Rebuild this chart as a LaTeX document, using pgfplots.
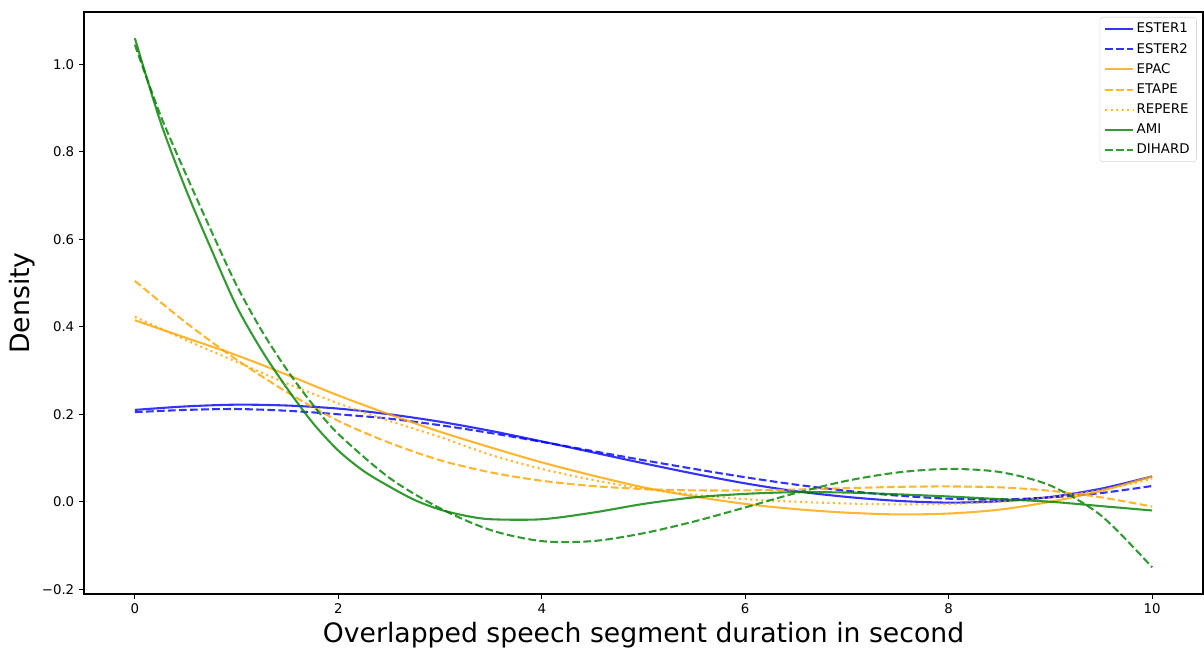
\documentclass[border=0pt]{standalone}
\usepackage{fontspec}
\setmainfont{DejaVu Sans}
\usepackage{pgfplots}
\pgfplotsset{compat=1.18}
\definecolor{mplblue}{HTML}{0000FF}
\definecolor{mplorange}{HTML}{FFA500}
\definecolor{mplgreen}{HTML}{008000}
\begin{document}
\begin{tikzpicture}
\begin{axis}[
    scale only axis,
    width=805.68pt,
    height=419.04pt,
    xmin=-0.5, xmax=10.5,
    ymin=-0.211, ymax=1.12,
    xtick={0,2,4,6,8,10},
    ytick={-0.2,0,0.2,0.4,0.6,0.8,1.0},
    yticklabels={−0.2,0.0,0.2,0.4,0.6,0.8,1.0},
    /pgf/number format/assume math mode=true,
    tick align=outside,
    major tick length=3.5pt,
    tick style={black, line width=0.8pt},
    axis line style={line width=0.8pt},
    tick label style={font=\fontsize{9.6}{11.5}\selectfont},
    xlabel={Overlapped speech segment duration in second},
    ylabel={Density},
    label style={font=\fontsize{19.2}{23}\selectfont, inner sep=0pt},
    xlabel style={at={(axis description cs:0.5,0)}, anchor=base, yshift=-35pt},
    ylabel style={at={([xshift=-35.3pt]axis description cs:0,0.5)}, anchor=south},
    xtick pos=bottom, ytick pos=left,
    legend style={at={(1,1)}, anchor=north east, xshift=-4.5pt, yshift=-3.6pt,
        draw=black!15, rounded corners=2pt, font=\fontsize{9.6}{11.5}\selectfont,
        row sep=2pt},
    legend cell align=left,
    legend image code/.code={\draw[#1] (0pt,0pt) -- (20pt,0pt);},
    every axis plot/.append style={line width=1.5pt, draw opacity=0.8, smooth, no marks},
]
% ESTER1
\addplot[mplblue] coordinates {
(0,0.210) (0.5,0.218) (1,0.222) (1.5,0.220) (2,0.213) (2.5,0.200) (3,0.183)
(3.5,0.162) (4,0.138) (4.5,0.113) (5,0.088) (5.5,0.064) (6,0.042) (6.5,0.024)
(7,0.011) (7.5,0.002) (8,-0.002) (8.5,0.001) (9,0.011) (9.5,0.030) (10,0.058)};
\addlegendentry{ESTER1}
% ESTER2
\addplot[mplblue, dash pattern=on 5.55pt off 2.4pt] coordinates {
(0,0.205) (0.5,0.210) (1,0.212) (1.5,0.208) (2,0.200) (2.5,0.190) (3,0.175)
(3.5,0.157) (4,0.137) (4.5,0.116) (5,0.095) (5.5,0.075) (6,0.056) (6.5,0.039)
(7,0.025) (7.5,0.014) (8,0.007) (8.5,0.005) (9,0.010) (9.5,0.020) (10,0.036)};
\addlegendentry{ESTER2}
% EPAC
\addplot[mplorange] coordinates {
(0,0.415) (0.5,0.375) (1,0.335) (1.5,0.290) (2,0.243) (2.5,0.200) (3,0.160)
(3.5,0.124) (4,0.090) (4.5,0.060) (5,0.033) (5.5,0.012) (6,-0.005) (6.5,-0.017)
(7,-0.025) (7.5,-0.029) (8,-0.027) (8.5,-0.018) (9,0.000) (9.5,0.025) (10,0.058)};
\addlegendentry{EPAC}
% ETAPE
\addplot[mplorange, dash pattern=on 5.55pt off 2.4pt] coordinates {
(0,0.505) (0.5,0.410) (1,0.325) (1.5,0.250) (2,0.185) (2.5,0.135) (3,0.095)
(3.5,0.067) (4,0.048) (4.5,0.036) (5,0.029) (5.5,0.026) (6,0.026) (6.5,0.028)
(7,0.031) (7.5,0.034) (8,0.035) (8.5,0.033) (9,0.025) (9.5,0.010) (10,-0.011)};
\addlegendentry{ETAPE}
% REPERE
\addplot[mplorange, dash pattern=on 1.5pt off 2.475pt] coordinates {
(0,0.423) (0.5,0.370) (1,0.320) (1.5,0.270) (2,0.225) (2.5,0.185) (3,0.148)
(3.5,0.107) (4,0.075) (4.5,0.050) (5,0.030) (5.5,0.016) (6,0.006) (6.5,0.000)
(7,-0.004) (7.5,-0.006) (8,-0.005) (8.5,0.000) (9,0.010) (9.5,0.027) (10,0.052)};
\addlegendentry{REPERE}
% AMI
\addplot[mplgreen] coordinates {
(0,1.060) (0.25,0.870) (0.5,0.715) (0.75,0.578) (1,0.447) (1.25,0.345) (1.5,0.258)
(1.75,0.180) (2,0.117) (2.25,0.070) (2.5,0.035) (2.75,0.004) (3,-0.018) (3.25,-0.032)
(3.5,-0.040) (4,-0.040) (4.5,-0.025) (5,-0.005) (5.5,0.010) (6,0.018) (6.5,0.022)
(7,0.021) (7.5,0.017) (8,0.012) (8.5,0.006) (9,0.000) (9.5,-0.010) (10,-0.020)};
\addlegendentry{AMI}
% DIHARD
\addplot[mplgreen, dash pattern=on 5.55pt off 2.4pt] coordinates {
(0,1.045) (0.25,0.885) (0.5,0.750) (0.75,0.620) (1,0.495) (1.25,0.390) (1.5,0.300)
(1.75,0.222) (2,0.155) (2.5,0.055) (3,-0.015) (3.5,-0.065) (4,-0.090) (4.5,-0.090)
(5,-0.072) (5.5,-0.045) (6,-0.013) (6.5,0.020) (7,0.048) (7.5,0.067) (8,0.075)
(8.5,0.068) (9,0.037) (9.5,-0.032) (10,-0.150)};
\addlegendentry{DIHARD}
\end{axis}
% fix the page to the reference's margins round the axis box
\pgfresetboundingbox
\path ([shift={(-60.48pt,-38.88pt)}]current axis.south west)
  rectangle ([shift={(0.72pt,8.64pt)}]current axis.north east);
\end{tikzpicture}
\end{document}
